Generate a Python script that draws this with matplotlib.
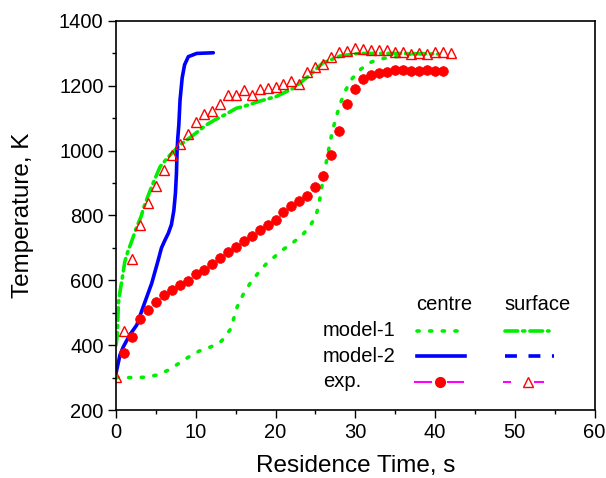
import matplotlib
matplotlib.use("Agg")
import matplotlib.pyplot as plt
from matplotlib.lines import Line2D

plt.rcParams['font.family'] = ['Liberation Sans', 'DejaVu Sans']

# ---------------- data ----------------
# experimental, centre (red filled circles)
exp_c_t = list(range(1, 42))
exp_c_T = [376, 426, 481, 508, 533, 555, 570, 586, 598, 620,
           632, 650, 669, 687, 704, 722, 738, 755, 771, 786,
           810, 828, 844, 859, 889, 922, 986, 1062, 1144, 1190,
           1220, 1233, 1241, 1242, 1248, 1248, 1247, 1246, 1248, 1247, 1247]

# experimental, surface (open red triangles)
exp_s_t = list(range(0, 43))
exp_s_T = [303, 445, 665, 771, 838, 891, 940, 987, 1021, 1051,
           1089, 1113, 1123, 1143, 1171, 1171, 1186, 1173, 1189, 1193,
           1197, 1205, 1214, 1206, 1244, 1258, 1266, 1290, 1304, 1307,
           1318, 1313, 1311, 1310, 1310, 1303, 1303, 1299, 1301, 1297,
           1304, 1304, 1302]

# model-1 centre (green dotted)
m1c_t = [0, 1.84, 3.64, 5.18, 6.56, 7.9, 9.15, 10.45, 11.91, 13.25,
         14.29, 14.71, 15.21, 15.96, 16.8, 17.81, 18.81, 19.94, 21.07, 22.32,
         23.49, 24.41, 25.08, 25.49, 25.79, 26.42, 26.75, 27.12, 27.59, 28.13,
         28.8, 29.63, 30.72, 32.06, 33.61, 35.2, 36.87, 38.53]
m1c_T = [300, 300, 301, 308, 323, 344, 364, 382, 395, 413,
         447, 478, 519, 557, 590, 622, 650, 674, 697, 719,
         743, 771, 799, 841, 887, 971, 1014, 1059, 1102, 1146,
         1187, 1223, 1252, 1274, 1285, 1290, 1297, 1300]

# model-1 surface (green dash-dot)
m1s_t = [0, 0.16, 0.3, 0.5, 0.75, 1.1, 1.5, 1.96, 2.6, 3.2,
         3.4, 4.47, 5.52, 6.56, 8.0, 9.7, 11.3, 12.4, 13.6, 15.1,
         15.96, 18.05, 20.1, 22.2, 24.3, 25.9, 28.1, 30.4, 35.2, 40.5]
m1s_T = [400, 430, 530, 565, 601, 657, 690, 720, 765, 800,
         820, 889, 950, 981, 1017, 1048, 1079, 1095, 1110, 1131,
         1136, 1153, 1167, 1192, 1233, 1270, 1292, 1300, 1300, 1298]

# model-2 centre (blue solid)
m2c_t = [0, 0.5, 0.92, 1.76, 2.6, 3.42, 4.48, 5.3, 5.7, 6.14,
         6.56, 6.95, 7.25, 7.45, 7.58, 7.66, 7.75, 7.88, 8.03, 8.3,
         8.6, 9.07, 10.12, 12.2]
m2c_T = [313, 370, 395, 433, 462, 519, 591, 663, 700, 724,
         745, 772, 815, 868, 930, 1000, 1040, 1080, 1156, 1225,
         1265, 1290, 1300, 1302]

row_labels = ['model-1', 'model-2', 'exp.']
col_labels = ['centre', 'surface']
xticks = [0, 10, 20, 30, 40, 50, 60]
yticks = [200, 400, 600, 800, 1000, 1200, 1400]

GREEN = '#00ee00'
BLUE = '#0000ff'
RED = '#ff0000'
MAG = '#ff00ff'

# ---------------- figure ----------------
fig = plt.figure(figsize=(6.06, 4.78), dpi=100)
ax = fig.add_axes([116 / 606, 1 - 410 / 478, 478.5 / 606, 389 / 478])

ax.plot(m1c_t, m1c_T, color=GREEN, lw=2.6, dashes=(0.6, 2.9),
        dash_capstyle='round')
ax.plot(m1s_t, m1s_T, color=GREEN, lw=2.6, dashes=(3.5, 1.4, 0.6, 1.4),
        dash_capstyle='round')
ax.plot(m2c_t, m2c_T, color=BLUE, lw=2.6, solid_capstyle='round')
ax.plot(exp_s_t, exp_s_T, ls='none', marker='^', ms=7.2, mfc='none',
        mec=RED, mew=1.0)
ax.plot(exp_c_t, exp_c_T, ls='none', marker='o', ms=7.0, mfc=RED,
        mec=RED, mew=0.5)

ax.set_xlim(0, 60)
ax.set_ylim(200, 1400)
ax.set_xticks(xticks)
ax.set_yticks(yticks)
ax.set_xticks([5, 15, 25, 35, 45, 55], minor=True)
ax.set_yticks([300, 500, 700, 900, 1100, 1300], minor=True)
ax.tick_params(which='major', direction='out', length=5.5, width=1.0,
               labelsize=14.5, pad=3.5, top=False, right=False)
ax.tick_params(which='minor', direction='out', length=3, width=1.0,
               top=False, right=False)
for s in ax.spines.values():
    s.set_linewidth(1.2)

ax.set_xlabel('Residence Time, s', fontsize=17.5, labelpad=9.5)
ax.set_ylabel('Temperature, K', fontsize=17.5, labelpad=18)


# ---------------- custom legend table ----------------
def fx(px):
    return (px - 116) / 478.5


def fy(py):
    return (410 - py) / 389


tr = ax.transAxes
fs = 14.5
ax.text(fx(416), fy(304), col_labels[0], transform=tr, fontsize=fs,
        va='center', ha='left')
ax.text(fx(504), fy(304), col_labels[1], transform=tr, fontsize=fs,
        va='center', ha='left')
for lab, py in zip(row_labels, [330.7, 356, 381.5]):
    ax.text(fx(323), fy(py), lab, transform=tr, fontsize=fs,
            va='center', ha='left')

legend_lines = [
    Line2D([fx(417), fx(462)], [fy(330.7)] * 2, color=GREEN, lw=2.6,
           dashes=(0.6, 2.9), dash_capstyle='round'),
    Line2D([fx(505), fx(549)], [fy(330.7)] * 2, color=GREEN, lw=2.6,
           dashes=(3.5, 1.4, 0.6, 1.4), dash_capstyle='round'),
    Line2D([fx(417), fx(465)], [fy(356)] * 2, color=BLUE, lw=2.6),
    Line2D([fx(505), fx(554)], [fy(356)] * 2, color=BLUE, lw=2.6,
           dashes=(3.3, 3.2)),
    Line2D([fx(415), fx(431)], [fy(381.5)] * 2, color=MAG, lw=1.5),
    Line2D([fx(448), fx(463)], [fy(381.5)] * 2, color=MAG, lw=1.5),
    Line2D([fx(440)], [fy(381.5)], ls='none', marker='o', ms=7.0,
           mfc=RED, mec=RED),
    Line2D([fx(504), fx(510)], [fy(381.5)] * 2, color=MAG, lw=1.5),
    Line2D([fx(535), fx(543)], [fy(381.5)] * 2, color=MAG, lw=1.5),
    Line2D([fx(528)], [fy(381.5)], ls='none', marker='^', ms=7.2,
           mfc='white', mec=RED, mew=1.0),
]
for ln in legend_lines:
    ln.set_transform(tr)
    ax.add_line(ln)

fig.savefig('out.png', dpi=100)
